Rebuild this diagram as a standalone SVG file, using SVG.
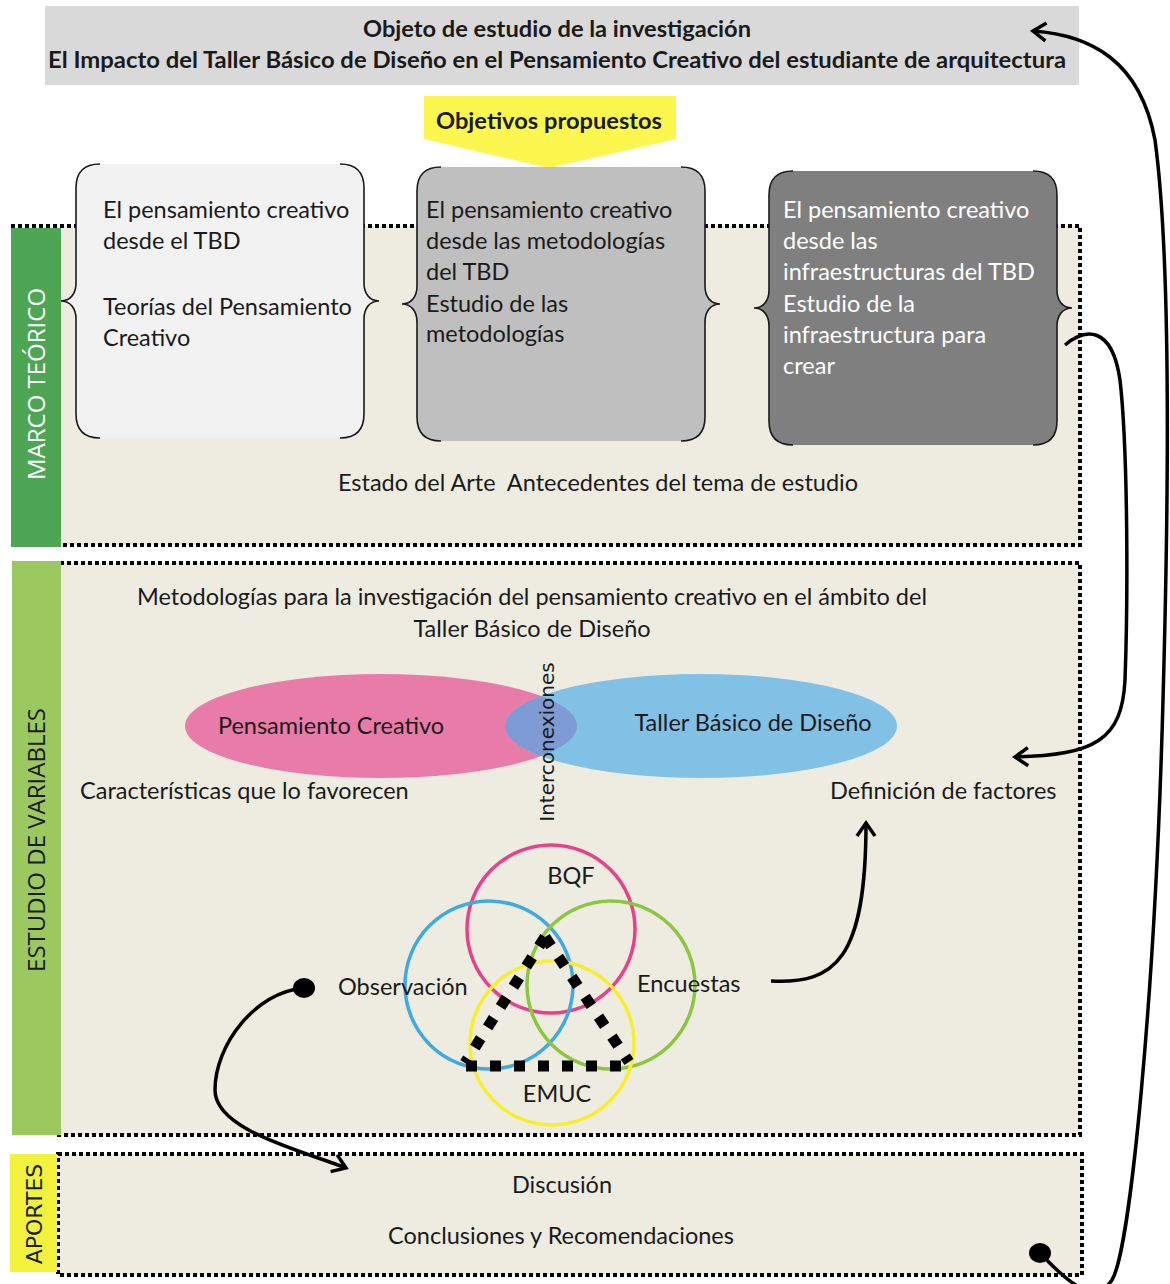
<svg xmlns="http://www.w3.org/2000/svg" width="1170" height="1284" viewBox="0 0 1170 1284">
<style>
.t{font-family:Lato,"Open Sans","Liberation Sans",sans-serif;font-size:23.5px;fill:#1a1a1a}
.b{font-weight:bold}
.w{fill:#ffffff}
.c{text-anchor:middle}
.dot{fill:none;stroke:#000;stroke-width:4;stroke-dasharray:4 3}
.br{fill:none;stroke:#1a1a1a;stroke-width:1.6}
.con{fill:none;stroke:#000;stroke-width:3.5}
.tri{fill:none;stroke:#000;stroke-width:11;stroke-dasharray:11 13}
.side{font-family:"Open Sans","Liberation Sans",sans-serif;font-size:24px;text-anchor:middle}
</style>
<defs>
<path id="bfill" d="M24,0 L264,0 Q288,0 288,24 L288,119 C288,130 294,137 303,137 C294,137 288,144 288,155 L288,250 Q288,274 264,274 L24,274 Q0,274 0,250 L0,155 C0,144 -6,137 -15,137 C-6,137 0,130 0,119 L0,24 Q0,0 24,0 Z"/>
<path id="bl" d="M24,0 Q0,0 0,24 L0,119 C0,130 -6,137 -15,137 C-6,137 0,144 0,155 L0,250 Q0,274 24,274"/>
<path id="brr" d="M264,0 Q288,0 288,24 L288,119 C288,130 294,137 303,137 C294,137 288,144 288,155 L288,250 Q288,274 264,274"/>
<marker id="ah" viewBox="-16 -12 20 24" refX="0" refY="0" markerWidth="20" markerHeight="24" markerUnits="userSpaceOnUse" orient="auto">
<path d="M-13,-9 L0,0 L-13,9" fill="none" stroke="#000" stroke-width="3.5"/>
</marker>
<clipPath id="pinkclip"><ellipse cx="381" cy="726" rx="196" ry="52"/></clipPath>
</defs>
<rect width="1170" height="1284" fill="#ffffff"/>

<!-- sections -->
<g id="sec-marco">
<rect x="61" y="226" width="1019" height="319" fill="#eeece1"/>
<path class="dot" d="M11,226 H1080 V545 H61"/>
<rect x="11" y="228" width="50" height="319" fill="#4ea655"/>
<text class="side" fill="#ffffff" transform="translate(45,384) rotate(-90)">MARCO TEÓRICO</text>
<text class="t c" x="598" y="491" xml:space="preserve">Estado del Arte  Antecedentes del tema de estudio</text>
</g>
<g id="sec-estudio">
<rect x="61" y="563" width="1019" height="572" fill="#eeece1"/>
<path class="dot" d="M60,563 H1080 V1135 H57"/>
<rect x="12" y="561" width="49" height="574" fill="#9cc95f"/>
<text class="side" fill="#1a1a1a" transform="translate(45,840) rotate(-90)">ESTUDIO DE VARIABLES</text>
<text class="t c" x="532" y="605">Metodologías para la investigación del pensamiento creativo en el ámbito del</text>
<text class="t c" x="532" y="637">Taller Básico de Diseño</text>
<text class="t" x="80" y="799">Características que lo favorecen</text>
<text class="t" x="830" y="799">Definición de factores</text>
</g>
<g id="sec-aportes">
<rect x="58" y="1154" width="1024" height="121" fill="#eeece1"/>
<path class="dot" d="M58,1154 H1082 V1275 H58 Z"/>
<rect x="10" y="1154" width="47" height="118" fill="#f2f23e"/>
<text font-family="DejaVu Sans,sans-serif" font-size="22" text-anchor="middle" fill="#1a1a1a" transform="translate(42,1214) rotate(-90)">APORTES</text>
<text class="t c" x="562" y="1193">Discusión</text>
<text class="t c" x="561" y="1244">Conclusiones y Recomendaciones</text>
</g>

<!-- header -->
<g id="header">
<rect x="45" y="6" width="1034" height="79" fill="#d9d9d9"/>
<text class="t b c" x="557" y="37" font-size="22" textLength="388" lengthAdjust="spacingAndGlyphs">Objeto de estudio de la investigación</text>
<text class="t b c" x="557" y="68" font-size="22" textLength="1018" lengthAdjust="spacingAndGlyphs">El Impacto del Taller Básico de Diseño en el Pensamiento Creativo del estudiante de arquitectura</text>
</g>

<g id="objetivos">
<path d="M424,96 H676 V139 L549,168 L424,139 Z" fill="#fbf74e"/>
<text class="t b c" x="549" y="129" font-size="22" textLength="226" lengthAdjust="spacingAndGlyphs">Objetivos propuestos</text>
</g>

<g id="box1">
<g transform="translate(76,164)"><use href="#bfill" fill="#f2f2f2"/><use href="#bl" class="br"/><use href="#brr" class="br"/></g>
<text class="t" x="103" y="218">El pensamiento creativo</text>
<text class="t" x="103" y="249">desde el TBD</text>
<text class="t" x="103" y="315">Teorías del Pensamiento</text>
<text class="t" x="103" y="346">Creativo</text>
</g>
<g id="box2">
<g transform="translate(417,167)"><use href="#bfill" fill="#bfbfbf"/><use href="#bl" class="br"/><use href="#brr" class="br"/></g>
<text class="t" x="426" y="218">El pensamiento creativo</text>
<text class="t" x="426" y="249">desde las metodologías</text>
<text class="t" x="426" y="280">del TBD</text>
<text class="t" x="426" y="312">Estudio de las</text>
<text class="t" x="426" y="342">metodologías</text>
</g>
<g id="box3">
<g transform="translate(769,171)"><use href="#bfill" fill="#7f7f7f"/><use href="#bl" class="br"/><use href="#brr" class="br"/></g>
<text class="t w" x="783" y="218">El pensamiento creativo</text>
<text class="t w" x="783" y="249">desde las</text>
<text class="t w" x="783" y="280">infraestructuras del TBD</text>
<text class="t w" x="783" y="312">Estudio de la</text>
<text class="t w" x="783" y="343">infraestructura para</text>
<text class="t w" x="783" y="374">crear</text>
</g>

<g id="ellipses">
<ellipse cx="381" cy="726" rx="196" ry="52" fill="#e97ba9"/>
<ellipse cx="701" cy="726" rx="196" ry="52" fill="#82c1e6"/>
<ellipse cx="701" cy="726" rx="196" ry="52" fill="#7f9bd5" clip-path="url(#pinkclip)"/>
<text class="t c" x="331" y="734">Pensamiento Creativo</text>
<text class="t c" x="753" y="731">Taller Básico de Diseño</text>
<text font-family="DejaVu Sans,sans-serif" font-size="20" text-anchor="middle" fill="#1a1a1a" transform="translate(554,742) rotate(-90)">Interconexiones</text>
</g>

<g id="venn">
<circle cx="551" cy="929" r="84" fill="none" stroke="#e5428a" stroke-width="3.5"/>
<circle cx="489" cy="985" r="84" fill="none" stroke="#3fa9e1" stroke-width="3.5"/>
<circle cx="611" cy="985" r="84" fill="none" stroke="#8cc63f" stroke-width="3.5"/>
<circle cx="552" cy="1043" r="82" fill="none" stroke="#f7ee2e" stroke-width="3.5"/>
<line class="tri" x1="545" y1="937" x2="465" y2="1063"/>
<line class="tri" x1="545" y1="937" x2="629" y2="1062"/>
<line class="tri" x1="466" y1="1066" x2="632" y2="1066"/>
<text class="t c" x="571" y="884">BQF</text>
<text class="t" x="338" y="995">Observación</text>
<text class="t" x="637" y="992">Encuestas</text>
<text class="t c" x="557" y="1102">EMUC</text>
</g>

<g id="connectors">
<path class="con" d="M771,981 C835,984 866,960 866,823" marker-end="url(#ah)"/>
<path class="con" d="M1065,345 C1085,328 1112,325 1120,380 C1128,450 1128,600 1125,680 C1122,740 1095,755 1015,757" marker-end="url(#ah)"/>
<ellipse cx="1040" cy="1253" rx="11" ry="10" fill="#000"/>
<path class="con" d="M1040,1253 C1070,1285 1095,1305 1112,1280 C1130,1250 1155,1000 1163,700 C1170,450 1170,250 1155,140 C1140,60 1090,35 1033,31" marker-end="url(#ah)"/>
<ellipse cx="304" cy="988" rx="11" ry="10" fill="#000"/>
<path class="con" d="M304,988 C255,992 215,1045 215,1090 C215,1130 300,1150 346,1168" marker-end="url(#ah)"/>
</g>
</svg>
